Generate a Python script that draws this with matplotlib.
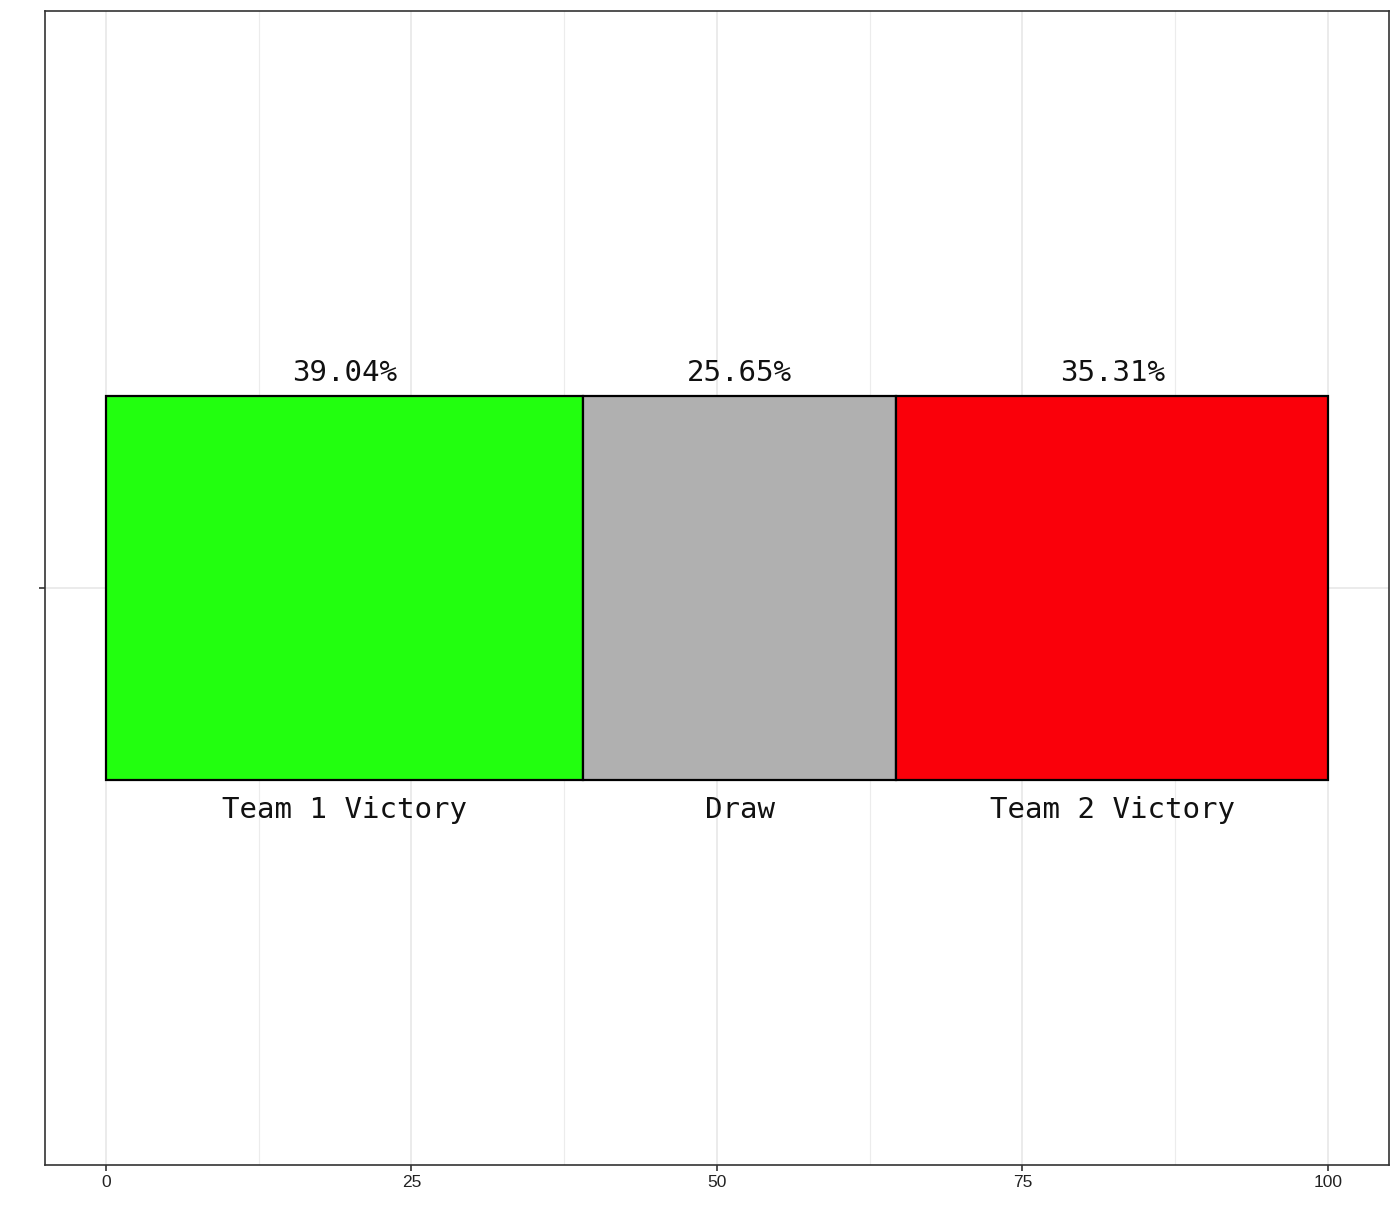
import matplotlib.pyplot as plt
from matplotlib.ticker import MultipleLocator

# === Dados ===
resultados = ["Team 1 Victory", "Draw", "Team 2 Victory"]
percentuais = [39.04, 25.65, 35.31]
cores = ["#22ff0f", "#b0b0b0", "#fa000a"]

fig = plt.figure(figsize=(14, 12.27), dpi=100)
ax = fig.add_axes([0.0321, 0.0505, 0.96, 0.9405])

inicio = 0.0
for nome, pct, cor in zip(resultados, percentuais, cores):
    ax.barh(0, pct, left=inicio, height=1.0, color=cor, edgecolor="black",
            linewidth=1.6, zorder=3)
    centro = inicio + pct / 2
    ax.text(centro, 0.56, f"{pct:.2f}%", ha="center", va="center",
            family="DejaVu Sans Mono", fontsize=21, color="#111111", zorder=4)
    ax.text(centro, -0.577, nome, ha="center", va="center",
            family="DejaVu Sans Mono", fontsize=21, color="#111111", zorder=4)
    inicio += pct

ax.set_xlim(-5, 105)
ax.set_ylim(-1.5, 1.5)
ax.xaxis.set_major_locator(MultipleLocator(25))
ax.xaxis.set_minor_locator(MultipleLocator(12.5))
ax.set_yticks([0])
ax.set_yticklabels([""])

ax.grid(True, which="major", color="#e5e5e5", linewidth=1.1, zorder=0)
ax.grid(True, which="minor", axis="x", color="#ececec", linewidth=0.8, zorder=0)
ax.tick_params(axis="both", which="major", length=4, width=1.2, color="#333333",
               labelsize=12.5, labelcolor="#222222")
ax.tick_params(axis="x", which="minor", length=0)
for lbl in ax.get_xticklabels():
    lbl.set_family("Liberation Sans")

for s in ax.spines.values():
    s.set_color("#333333")
    s.set_linewidth(1.2)

fig.savefig("out.png", dpi=100, facecolor="white")
